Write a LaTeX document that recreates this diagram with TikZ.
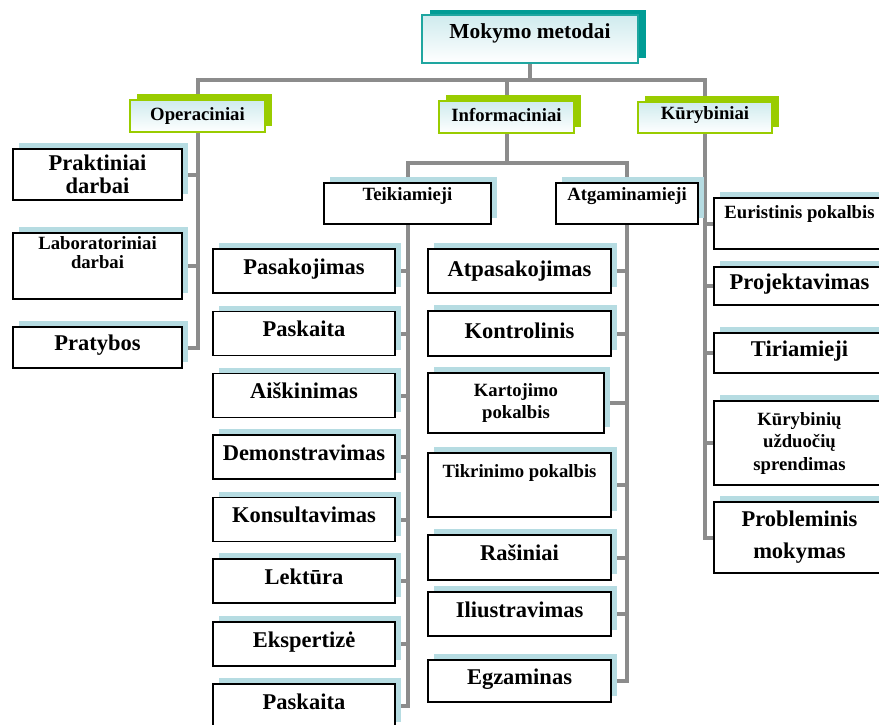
\documentclass[tikz,border=0pt]{standalone}
\usepackage{fontspec}
\setmainfont{Liberation Serif}
\usepackage{tikz}
\usetikzlibrary{shadows,backgrounds}
\definecolor{lineGray}{HTML}{8C8C8C}
\definecolor{shadowBlue}{HTML}{B6DCE2}
\definecolor{headGreen}{HTML}{99CC00}
\definecolor{headBlue}{HTML}{CFEBEE}
\definecolor{titleTeal}{HTML}{1FA6A0}
\definecolor{titleShadow}{HTML}{009C95}
\newcommand{\bigtext}{\fontsize{22.5}{23}\selectfont\bfseries}
\newcommand{\smalltext}{\fontsize{18.7}{22.5}\selectfont\bfseries}
\newcommand{\titletext}{\fontsize{21.4}{24}\selectfont\bfseries}

\begin{document}
\begin{tikzpicture}[
  x=1pt,y=-1pt,
  conn/.style={draw=lineGray,line width=4pt},
  leaf/.style={draw=black,line width=1.8pt,fill=white,inner sep=0pt,align=center,
    general shadow={fill=shadowBlue,shadow xshift=6pt,shadow yshift=6pt}},
  bigone/.style={leaf,font=\bigtext,text height=15pt,text depth=9pt},
  bigmulti/.style={leaf,font=\bigtext},
  smallone/.style={leaf,font=\smalltext,text height=12.5pt,text depth=#1},
  smallmulti/.style={leaf,font=\smalltext},
  head/.style={draw=headGreen,line width=2pt,top color=headBlue,bottom color=white,inner sep=0pt,
    font=\smalltext,text height=12.5pt,text depth=#1,
    general shadow={fill=headGreen,shadow xshift=7pt,shadow yshift=6pt}},
  titlebox/.style={draw=titleTeal,line width=2pt,top color=headBlue,bottom color=white,inner sep=0pt,
    font=\titletext,text height=14pt,text depth=16pt,minimum width=216pt,minimum height=48pt,
    general shadow={fill=titleShadow,shadow xshift=8pt,shadow yshift=5pt}},
  colO/.style={minimum width=169pt},
  colT/.style={minimum width=182pt,minimum height=44pt},
  colA/.style={minimum width=183pt},
  colK/.style={minimum width=171pt}
]
\useasboundingbox (0,0) rectangle (879,724);

\node[titlebox] (title) at (530,39) {Mokymo metodai};

\node[head=4.5pt,minimum width=135pt,minimum height=32pt] (oper) at (197.5,116) {Operaciniai};
\node[head=4.5pt,minimum width=135pt,minimum height=32pt] (inf) at (506.5,117) {Informaciniai};
\node[head=8pt,minimum width=134pt,minimum height=31pt] (kur) at (705,117.5) {Kūrybiniai};

% operaciniai
\node[bigmulti,colO,minimum height=51pt] (o1) at (97.5,174.5) {Praktiniai\\darbai};
\node[smallmulti,colO,minimum height=66pt,text depth=27pt] (o2) at (97.5,266) {Laboratoriniai\\[-3pt]darbai};
\node[bigone,colO,minimum height=41pt] (o3) at (97.5,347.5) {Pratybos};

% informaciniai
\node[smallone=19pt,minimum width=167pt,minimum height=41pt] (teik) at (407.5,203.5) {Teikiamieji};
\node[smallone=19pt,minimum width=142pt,minimum height=41pt] (atg) at (627,203.5) {Atgaminamieji};

\node[bigone,colT] (t1) at (304,271) {Pasakojimas};
\node[bigone,colT] (t2) at (304,333.5) {Paskaita};
\node[bigone,colT] (t3) at (304,395.5) {Aiškinimas};
\node[bigone,colT] (t4) at (304,457) {Demonstravimas};
\node[bigone,colT] (t5) at (304,519.5) {Konsultavimas};
\node[bigone,colT] (t6) at (304,581) {Lektūra};
\node[bigone,colT] (t7) at (304,644) {Ekspertizė};
\node[bigone,colT] (t8) at (304,706) {Paskaita};

\node[bigone,colA,minimum height=44pt,text depth=5pt] (a1) at (519.5,271) {Atpasakojimas};
\node[bigone,colA,minimum height=45pt,text depth=5pt] (a2) at (519.5,333.5) {Kontrolinis};
\node[smallmulti,minimum width=176pt,minimum height=60pt] (a3) at (516,403) {Kartojimo\\pokalbis};
\node[smallone=28.5pt,colA,minimum height=64pt] (a4) at (519.5,485) {Tikrinimo pokalbis};
\node[bigone,colA,minimum height=45pt] (a5) at (519.5,557.5) {Rašiniai};
\node[bigone,colA,minimum height=44pt] (a6) at (519.5,614) {Iliustravimas};
\node[bigone,colA,minimum height=42pt] (a7) at (519.5,681) {Egzaminas};

% kurybiniai
\node[smallone=23.5pt,colK,minimum height=51pt] (k1) at (799.5,223.5) {Euristinis pokalbis};
\node[bigone,colK,minimum height=38pt] (k2) at (799.5,286) {Projektavimas};
\node[bigone,colK,minimum height=40pt] (k3) at (799.5,353) {Tiriamieji};
\node[smallmulti,colK,minimum height=84pt] (k4) at (799.5,443) {Kūrybinių\\užduočių\\sprendimas};
\node[bigmulti,colK,minimum height=71pt] (k5) at (799.5,537.5) {Probleminis\\[9pt]mokymas};

\coordinate (barTop) at (530,80);
\coordinate (barInf) at (506.5,163);

\begin{scope}[on background layer]
\draw[conn] (title.south) -- (title.south |- barTop);
\draw[conn] (oper.north) |- (barTop) -| (kur.north);
\draw[conn] (inf.north) -- (inf.north |- barTop);
\draw[conn] (inf.south) -- (barInf);
\draw[conn] (teik.north) |- (barInf) -| (atg.north);

\draw[conn] (oper.south) |- (o3.east);
\draw[conn] (o1.east) -- (o1.east -| oper.south);
\draw[conn] (o2.east) -- (o2.east -| oper.south);

\draw[conn] (teik.south) |- (t8.east);
\draw[conn] (t1.east) -- (t1.east -| teik.south);
\draw[conn] (t2.east) -- (t2.east -| teik.south);
\draw[conn] (t3.east) -- (t3.east -| teik.south);
\draw[conn] (t4.east) -- (t4.east -| teik.south);
\draw[conn] (t5.east) -- (t5.east -| teik.south);
\draw[conn] (t6.east) -- (t6.east -| teik.south);
\draw[conn] (t7.east) -- (t7.east -| teik.south);

\draw[conn] (atg.south) |- (a7.east);
\draw[conn] (a1.east) -- (a1.east -| atg.south);
\draw[conn] (a2.east) -- (a2.east -| atg.south);
\draw[conn] (a3.east) -- (a3.east -| atg.south);
\draw[conn] (a4.east) -- (a4.east -| atg.south);
\draw[conn] (a5.east) -- (a5.east -| atg.south);
\draw[conn] (a6.east) -- (a6.east -| atg.south);

\draw[conn] (kur.south) |- (k5.west);
\draw[conn] (k1.west) -- (k1.west -| kur.south);
\draw[conn] (k2.west) -- (k2.west -| kur.south);
\draw[conn] (k3.west) -- (k3.west -| kur.south);
\draw[conn] (k4.west) -- (k4.west -| kur.south);
\end{scope}

\end{tikzpicture}
\end{document}
